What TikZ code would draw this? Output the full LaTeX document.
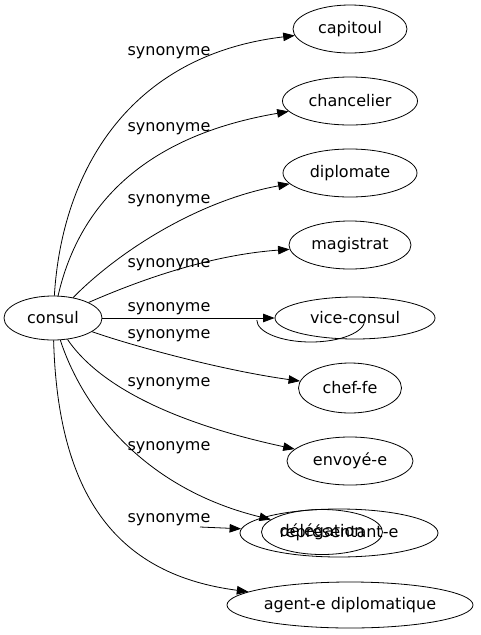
\documentclass[tikz,border=0pt]{standalone}
\usepackage{fontspec}
\usepackage{tikz}
\usetikzlibrary{arrows.meta, shapes.geometric}
\newfontfamily\dejavu{DejaVu Sans}
\tikzset{
    syn/.style={draw, ellipse, line width=0.8pt, inner sep=0pt, minimum height=48pt,
        font=\dejavu\fontsize{16}{19}\selectfont},
    lbl/.style={inner sep=0pt, font=\dejavu\fontsize{16}{19}\selectfont},
    arr/.style={-{Triangle[length=11.5pt,width=8.5pt]}, line width=0.8pt}
}

\begin{document}
\begin{tikzpicture}[x=1pt, y=-1pt]
    \useasboundingbox (0,0) rectangle (480,635);
    \node[syn, minimum width=98pt, minimum height=44pt] (consul) at (53,318) {consul};
    \node[syn, minimum width=114pt] (capitoul) at (350,29) {capitoul};
    \node[syn, minimum width=135pt] (chancelier) at (350,101) {chancelier};
    \node[syn, minimum width=134pt] (diplomate) at (350,173) {diplomate};
    \node[syn, minimum width=122pt] (magistrat) at (350,245) {magistrat};
    \node[syn, minimum width=160pt, minimum height=42pt] (vice) at (355,318) {vice-consul};
    \node[ellipse, minimum width=108pt, minimum height=44pt, inner sep=0pt] (hid) at (311,320) {};
    \draw[line width=0.8pt] (hid.west) arc[start angle=180, end angle=360, x radius=54pt, y radius=22pt];
    \node[syn, minimum width=103pt, minimum height=50pt] (chef) at (350,388) {chef-fe};
    \node[syn, minimum width=126pt] (envoye) at (350,461) {envoyé-e};
    \node[syn, minimum width=198pt] (rep) at (339,533) {représentant-e};
    \node[syn, minimum width=121pt, minimum height=45pt] (deleg) at (322,532) {délégation};
    \node[syn, minimum width=246pt, minimum height=46pt] (agent) at (350,605) {agent-e diplomatique};
    \foreach \y [count=\i] in {53,129,201,265,309,336,384,448,520}{
    \node[lbl] (l\i) at (169,\y) {synonyme};}
    \draw[arr] (consul) .. controls (62,170) and (130,55) .. (capitoul);
    \draw[arr] (consul) .. controls (80,200) and (150,135) .. (chancelier);
    \draw[arr] (consul) .. controls (120,250) and (200,200) .. (diplomate);
    \draw[arr] (consul) .. controls (140,280) and (210,255) .. (magistrat);
    \draw[arr] (consul) -- (vice);
    \draw[arr] (consul) .. controls (130,345) and (220,370) .. (chef);
    \draw[arr] (consul) .. controls (95,380) and (160,420) .. (envoye);
    \draw[arr] (consul) .. controls (85,415) and (150,490) .. (deleg);
    \draw[arr] (consul) .. controls (58,500) and (120,575) .. (agent);
    \coordinate (reptail) at (200,527);
    \draw[arr] (reptail) -- (rep);
\end{tikzpicture}
\end{document}
